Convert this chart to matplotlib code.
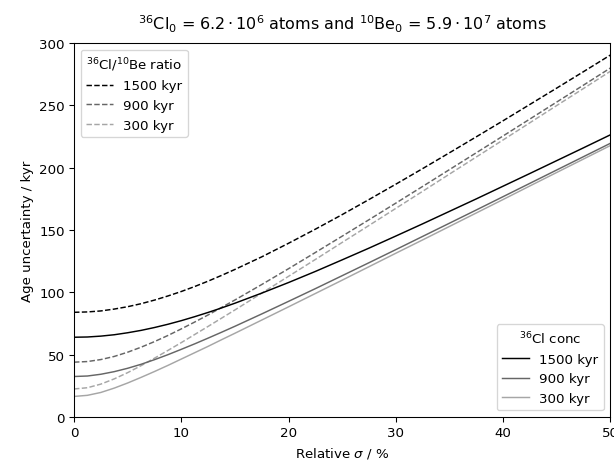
#!/usr/bin/env python3
"""Age uncertainty versus relative sigma for 36Cl concentration and 36Cl/10Be ratio."""

import matplotlib

matplotlib.use("Agg")
import matplotlib.pyplot as plt

sigma = [0, 1.25, 2.5, 3.75, 5, 6.25, 7.5, 8.75, 10, 11.25, 12.5, 13.75, 15,
         17.5, 20, 22.5, 25, 27.5, 30, 32.5, 35, 37.5, 40, 42.5, 45, 47.5, 50]

# Age uncertainty (kyr) from the 36Cl concentration
conc_1500 = [64.0, 64.2, 64.9, 66.0, 67.6, 69.5, 71.8, 74.4, 77.3, 80.5, 83.9, 87.5, 91.3,
             99.4, 107.9, 116.8, 126.1, 135.5, 145.2, 155.0, 165.0, 175.0, 185.2, 195.4,
             205.7, 216.0, 226.4]
conc_900 = [32.5, 32.9, 34.3, 36.4, 39.1, 42.3, 46.0, 50.0, 54.3, 58.7, 63.3, 68.0, 72.8,
            82.7, 92.8, 103.0, 113.4, 123.8, 134.3, 144.9, 155.5, 166.1, 176.8, 187.5,
            198.2, 208.9, 219.6]
conc_300 = [16.5, 17.4, 19.7, 23.2, 27.3, 31.8, 36.5, 41.4, 46.5, 51.6, 56.7, 62.0, 67.2,
            77.8, 88.4, 99.1, 109.8, 120.6, 131.4, 142.1, 152.9, 163.7, 174.5, 185.4,
            196.2, 207.0, 217.8]

# Age uncertainty (kyr) from the 36Cl/10Be ratio
ratio_1500 = [84.0, 84.3, 85.1, 86.6, 88.5, 90.9, 93.8, 97.1, 100.7, 104.7, 109.0, 113.6, 118.4,
              128.5, 139.4, 150.7, 162.4, 174.5, 186.8, 199.3, 212.0, 224.8, 237.7, 250.8,
              263.9, 277.1, 290.4]
ratio_900 = [44.0, 44.5, 46.1, 48.6, 52.0, 56.0, 60.5, 65.4, 70.7, 76.2, 81.9, 87.9, 93.9,
             106.3, 119.0, 132.0, 145.1, 158.3, 171.6, 185.0, 198.5, 212.0, 225.5, 239.1,
             252.7, 266.3, 280.0]
ratio_300 = [22.5, 23.5, 26.4, 30.6, 35.6, 41.2, 47.2, 53.4, 59.7, 66.2, 72.7, 79.3, 85.9,
             99.4, 112.9, 126.4, 140.1, 153.7, 167.4, 181.1, 194.9, 208.6, 222.3, 236.1,
             249.9, 263.6, 277.4]

ages = ["1500 kyr", "900 kyr", "300 kyr"]
colours = ["black", "0.4", "0.65"]


def main():
    fig = plt.figure(figsize=(6.4, 4.906), dpi=96)
    ax = fig.add_axes([0.1205, 0.1125, 0.873, 0.794])

    ratio_lines = []
    for ys, lab, c in zip([ratio_1500, ratio_900, ratio_300], ages, colours):
        (ln,) = ax.plot(sigma, ys, linestyle="--", color=c, lw=1.1, label=lab)
        ratio_lines.append(ln)

    conc_lines = []
    for ys, lab, c in zip([conc_1500, conc_900, conc_300], ages, colours):
        (ln,) = ax.plot(sigma, ys, linestyle="-", color=c, lw=1.1, label=lab)
        conc_lines.append(ln)

    ax.set_xlim(0, 50)
    ax.set_ylim(0, 300)
    ax.set_xlabel(r"Relative $\sigma$ / %")
    ax.set_ylabel("Age uncertainty / kyr")
    ax.set_title(r"$^{36}$Cl$_0$ = $6.2\cdot10^6$ atoms and $^{10}$Be$_0$ = $5.9\cdot10^7$ atoms",
                 fontsize=12, pad=10)

    leg1 = ax.legend(handles=ratio_lines, title=r"$^{36}$Cl/$^{10}$Be ratio", loc="upper left")
    ax.add_artist(leg1)
    ax.legend(handles=conc_lines, title=r"$^{36}$Cl conc", loc="lower right")

    fig.savefig("out.png", dpi=96)


if __name__ == "__main__":
    main()
